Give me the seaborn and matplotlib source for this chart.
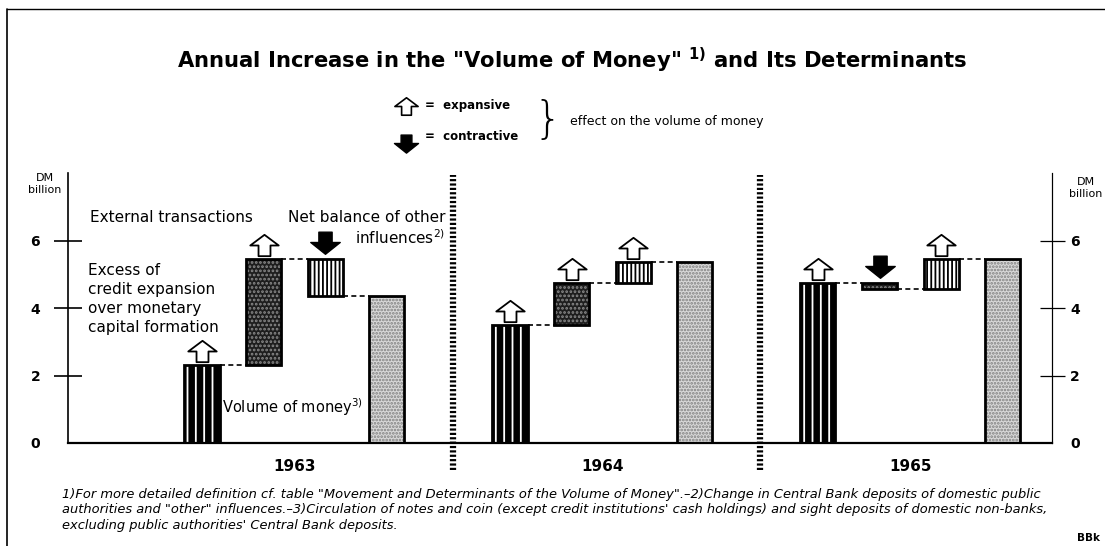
import matplotlib
matplotlib.use("Agg")
import matplotlib.pyplot as plt
from matplotlib.path import Path
from matplotlib.lines import Line2D
import seaborn as sns

years = ["1963", "1964", "1965"]
# DM billion
credit_excess = [2.3, 3.5, 4.75]      # excess of credit expansion over monetary capital formation
external = [3.15, 1.25, -0.2]         # external transactions
other = [-1.1, 0.6, 0.9]              # net balance of other influences
money = [4.35, 5.35, 5.45]            # volume of money
yticks = [0, 2, 4, 6]

sns.set_style("white")
plt.rcParams["font.family"] = ["DejaVu Sans"]
plt.rcParams["hatch.linewidth"] = 1.3
plt.rcParams["text.color"] = "black"
plt.rcParams["ytick.color"] = "black"

fig = plt.figure(figsize=(11.05, 5.46), dpi=100)
ax = fig.add_axes([68 / 1105, 103 / 546, 984 / 1105, 270 / 546])
ax.set_xlim(-2.175, 13.8)
ax.set_ylim(0, 8)

W = 0.57
up_path = Path([(-1, 0), (0, 0.75), (1, 0), (0.42, 0), (0.42, -0.75), (-0.42, -0.75), (-0.42, 0), (-1, 0)],
               [Path.MOVETO] + [Path.LINETO] * 6 + [Path.CLOSEPOLY])
down_path = Path([(-1, 0), (0, -0.8), (1, 0), (0.45, 0), (0.45, 0.7), (-0.45, 0.7), (-0.45, 0), (-1, 0)],
                 [Path.MOVETO] + [Path.LINETO] * 6 + [Path.CLOSEPOLY])

styles = [
    dict(facecolor="black", edgecolor="white", hatch="||"),
    dict(facecolor="#1e1e1e", edgecolor="#8a8a8a", hatch="...."),
    dict(facecolor="white", edgecolor="black", hatch="||||"),
    dict(facecolor="#d9d9d9", edgecolor="#808080", hatch="....."),
]

up_x, up_y, dn_x, dn_y = [], [], [], []
for g in range(len(years)):
    base = g * 5
    flows = [credit_excess[g], external[g], other[g]]
    start = 0.0
    levels = []
    for i, f in enumerate(flows):
        x = base + i
        ax.bar(x, f, bottom=start, width=W, linewidth=0, zorder=2, **styles[i])
        ax.bar(x, f, bottom=start, width=W, fill=False, edgecolor="black", linewidth=2, zorder=3)
        top = max(start, start + f)
        if f >= 0:
            up_x.append(x)
            up_y.append(top + 0.42)
        else:
            dn_x.append(x)
            dn_y.append(top + 0.5)
        start += f
        levels.append(start)
    x = base + 3
    ax.bar(x, money[g], width=W, linewidth=0, zorder=2, **styles[3])
    ax.bar(x, money[g], width=W, fill=False, edgecolor="black", linewidth=2, zorder=3)
    # dashed connectors between the steps
    for i, lv in enumerate(levels[:2]):
        ax.plot([base + i + W / 2, base + i + 1 - W / 2], [lv, lv], ls=(0, (3, 2)), color="black", lw=1.2, zorder=1)
    ax.plot([base + 2 + W / 2, base + 3 - W / 2], [levels[2], money[g]], ls=(0, (3, 2)), color="black", lw=1.2, zorder=1)
    ax.text(base + 1.5, -0.7, years[g], ha="center", va="center", fontsize=11, fontweight="bold")

sns.scatterplot(x=up_x, y=up_y, marker=up_path, s=420, color="white", edgecolor="black", linewidth=1.3, ax=ax, zorder=4, clip_on=False)
sns.scatterplot(x=dn_x, y=dn_y, marker=down_path, s=450, color="black", edgecolor="black", linewidth=1, ax=ax, zorder=4, clip_on=False)

# separators between years
for sx in [4.07, 9.06]:
    ax.vlines(sx, -0.8, 7.95, colors="black", linewidth=4.5, linestyles=(0, (0.35, 0.35)), clip_on=False, zorder=1)

# axes
ax.spines["top"].set_visible(False)
ax.spines["left"].set_linewidth(1.2)
ax.spines["bottom"].set_linewidth(1.6)
ax.spines["right"].set_linewidth(0.8)
for s in ["left", "bottom", "right"]:
    ax.spines[s].set_color("black")
ax.set_xticks([])
ax.set_yticks(yticks)
ax.set_yticklabels([str(t) for t in yticks], fontsize=10, fontweight="bold")
ax.tick_params(axis="y", direction="inout", length=20, width=1.2, pad=10, left=True, right=False)
ax2 = ax.twinx()
ax2.set_ylim(ax.get_ylim())
ax2.set_yticks(yticks)
ax2.set_yticklabels([str(t) for t in yticks], fontsize=10, fontweight="bold")
ax2.tick_params(axis="y", direction="inout", length=18, width=0.9, pad=4)
for s in ["top", "left", "bottom"]:
    ax2.spines[s].set_visible(False)
ax2.spines["right"].set_linewidth(0.8)
ax2.spines["right"].set_color("black")
# no tick marks at 0
ax.yaxis.get_major_ticks()[0].tick1line.set_visible(False)
ax2.yaxis.get_major_ticks()[0].tick2line.set_visible(False)

# overlay for free text in pixel coordinates
ov = fig.add_axes([0, 0, 1, 1], facecolor="none")
ov.set_xlim(0, 1105)
ov.set_ylim(546, 0)
ov.axis("off")

ov.add_line(Line2D([7, 1105], [9, 9], color="black", lw=1))
ov.add_line(Line2D([7, 7], [9, 546], color="black", lw=1.2))

ov.text(572, 60, 'Annual Increase in the "Volume of Money" $^{\\mathbf{1)}}$ and Its Determinants',
        ha="center", va="center", fontsize=15.2, fontweight="bold")

# legend for arrows
ov.scatter([406], [106], marker=up_path, s=280, facecolor="white", edgecolor="black", linewidth=1.2)
ov.scatter([406], [143], marker=down_path, s=300, facecolor="black", edgecolor="black")
ov.text(425, 106, "=  expansive", ha="left", va="center", fontsize=8.5, fontweight="bold")
ov.text(425, 137, "=  contractive", ha="left", va="center", fontsize=8.5, fontweight="bold")
ov.text(548, 121, "}", ha="center", va="center", fontsize=32, fontweight="light")
ov.text(570, 121, "effect on the volume of money", ha="left", va="center", fontsize=9)

# axis units
ov.text(45, 184, "DM\nbillion", ha="center", va="center", fontsize=8, linespacing=1.3)
ov.text(1086, 188, "DM\nbillion", ha="center", va="center", fontsize=8, linespacing=1.3)

# bar annotations in 1963
ov.text(90, 217, "External transactions", ha="left", va="center", fontsize=11)
ov.text(445, 218, "Net balance of other", ha="right", va="center", fontsize=11)
ov.text(445, 238, "influences$^{2)}$", ha="right", va="center", fontsize=11)
ov.text(88, 299, "Excess of\ncredit expansion\nover monetary\ncapital formation", ha="left", va="center",
        fontsize=11, linespacing=1.35)
ov.text(222, 407, "Volume of money$^{3)}$", ha="left", va="center", fontsize=10.5)

foot = ('1)For more detailed definition cf. table "Movement and Determinants of the Volume of Money".\u20132)Change in Central Bank deposits of domestic public\n'
        'authorities and "other" influences.\u20133)Circulation of notes and coin (except credit institutions\' cash holdings) and sight deposits of domestic non-banks,\n'
        'excluding public authorities\' Central Bank deposits.')
ov.text(62, 510, foot, ha="left", va="center", fontsize=9.4, style="italic", linespacing=1.25)
ov.text(1077, 538, "BBk", ha="left", va="center", fontsize=7.5, fontweight="bold")

fig.savefig("out.png", dpi=100)
